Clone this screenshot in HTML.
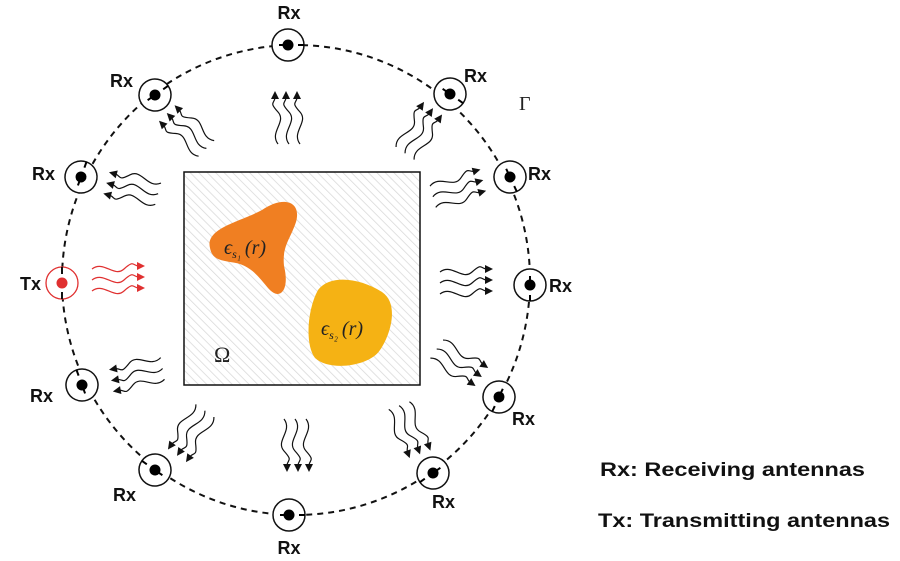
<!DOCTYPE html>
<html><head><meta charset="utf-8"><style>
html,body{margin:0;padding:0;background:#fff;}
svg{display:block;}
.sans{font-family:"Liberation Sans",Arial,sans-serif;}
.serif{font-family:"Liberation Serif","DejaVu Serif",serif;}
</style></head><body>
<svg width="900" height="561" viewBox="0 0 900 561" xmlns="http://www.w3.org/2000/svg">
<defs>
<pattern id="hatch" width="6" height="6" patternUnits="userSpaceOnUse" patternTransform="rotate(-45)">
<line x1="0" y1="0" x2="0" y2="6" stroke="#d8d8d8" stroke-width="1.5"/>
</pattern>
<g id="waves" fill="none" stroke="#111" stroke-width="1.2">
<path d="M-26,-11 C-14,-20 -4,-2 6,-11 S14,-15 20,-14"/>
<path d="M-26,0 C-14,-9 -4,9 6,0 S14,-4 20,-3"/>
<path d="M-26,11 C-14,2 -4,20 6,11 S14,7 20,8"/>
<path d="M27,-14 l-8,-4 l0,8z" fill="#111" stroke="none"/>
<path d="M27,-3 l-8,-4 l0,8z" fill="#111" stroke="none"/>
<path d="M27,8 l-8,-4 l0,8z" fill="#111" stroke="none"/>
</g>
<g id="wavesR" fill="none" stroke="#e03030" stroke-width="1.2">
<path d="M-26,-11 C-14,-20 -4,-2 6,-11 S14,-15 20,-14"/>
<path d="M-26,0 C-14,-9 -4,9 6,0 S14,-4 20,-3"/>
<path d="M-26,11 C-14,2 -4,20 6,11 S14,7 20,8"/>
<path d="M27,-14 l-8,-4 l0,8z" fill="#e03030" stroke="none"/>
<path d="M27,-3 l-8,-4 l0,8z" fill="#e03030" stroke="none"/>
<path d="M27,8 l-8,-4 l0,8z" fill="#e03030" stroke="none"/>
</g>
<g id="ant">
<circle r="16" fill="#fff" stroke="#111" stroke-width="1.5"/>
<circle r="5.5" fill="#000"/>
<line x1="-9" y1="0" x2="-2" y2="0" stroke="#000" stroke-width="2"/>
<line x1="16" y1="0" x2="10" y2="0" stroke="#000" stroke-width="2"/>
</g>
</defs>

<ellipse cx="296" cy="280" rx="234" ry="235" fill="none" stroke="#111" stroke-width="2" stroke-dasharray="6,5"/>

<rect x="184" y="172" width="236" height="213" fill="url(#hatch)" stroke="#111" stroke-width="1.5"/>
<path d="M210,248 C205,228 240,222 262,210 C282,196 302,200 296,222 C290,240 282,246 284,266 C290,290 280,302 268,288 C258,276 250,264 230,262 C218,260 212,258 210,248Z" fill="#f07f22"/>
<path d="M318,290 C330,274 360,278 382,292 C400,304 390,336 380,350 C370,366 330,372 315,358 C305,345 307,310 318,290Z" fill="#f5b214"/>
<text class="serif" x="224" y="254" font-size="20" font-style="italic" fill="#222">ϵ<tspan font-size="12" dy="4">s₁</tspan><tspan dy="-4" dx="4">(r)</tspan></text>
<text class="serif" x="321" y="335" font-size="20" font-style="italic" fill="#222">ϵ<tspan font-size="12" dy="4">s₂</tspan><tspan dy="-4" dx="4">(r)</tspan></text>
<text class="serif" x="214" y="362" font-size="22" fill="#222">Ω</text>
<text class="serif" x="519" y="110" font-size="20" fill="#222">Γ</text>

<use href="#waves" transform="translate(289,118) rotate(-90)"/>
<use href="#waves" transform="translate(188,130) rotate(-135)"/>
<use href="#waves" transform="translate(420,132) rotate(-55)"/>
<use href="#waves" transform="translate(133,187) rotate(-165)"/>
<use href="#wavesR" transform="translate(118,280)"/>
<use href="#waves" transform="translate(137,373) rotate(170)"/>
<use href="#waves" transform="translate(190,432) rotate(125)"/>
<use href="#waves" transform="translate(295,445) rotate(90)"/>
<use href="#waves" transform="translate(408,430) rotate(70)"/>
<use href="#waves" transform="translate(458,364) rotate(35)"/>
<use href="#waves" transform="translate(466,283)"/>
<use href="#waves" transform="translate(458,190) rotate(-15)"/>

<use href="#ant" transform="translate(288,45)"/>
<use href="#ant" transform="translate(155,95) rotate(-35)"/>
<use href="#ant" transform="translate(450,94) rotate(35)"/>
<use href="#ant" transform="translate(81,177) rotate(-70)"/>
<use href="#ant" transform="translate(510,177) rotate(65)"/>
<use href="#ant" transform="translate(530,285) rotate(90)"/>
<use href="#ant" transform="translate(82,385) rotate(-110)"/>
<use href="#ant" transform="translate(499,397) rotate(115)"/>
<use href="#ant" transform="translate(155,470) rotate(-145)"/>
<use href="#ant" transform="translate(433,473) rotate(145)"/>
<use href="#ant" transform="translate(289,515)"/>
<g transform="translate(62,283)">
<circle r="16" fill="#fff" stroke="#e03030" stroke-width="1.3"/>
<circle r="5.5" fill="#e03030"/>
<line x1="0" y1="-16" x2="0" y2="-9" stroke="#111" stroke-width="2"/>
<line x1="0" y1="16" x2="0" y2="9" stroke="#111" stroke-width="2"/>
</g>

<g class="sans" font-size="18" font-weight="bold" fill="#111">
<text x="289" y="19" text-anchor="middle">Rx</text>
<text x="110" y="87">Rx</text>
<text x="464" y="82">Rx</text>
<text x="32" y="180">Rx</text>
<text x="528" y="180">Rx</text>
<text x="20" y="290">Tx</text>
<text x="549" y="292">Rx</text>
<text x="30" y="402">Rx</text>
<text x="512" y="425">Rx</text>
<text x="113" y="501">Rx</text>
<text x="432" y="508">Rx</text>
<text x="289" y="554" text-anchor="middle">Rx</text>
</g>
<g class="sans" font-size="19" font-weight="bold" fill="#111">
<text x="600" y="476" textLength="265" lengthAdjust="spacingAndGlyphs">Rx: Receiving antennas</text>
<text x="598" y="527" textLength="292" lengthAdjust="spacingAndGlyphs">Tx: Transmitting antennas</text>
</g>
</svg>
</body></html>
